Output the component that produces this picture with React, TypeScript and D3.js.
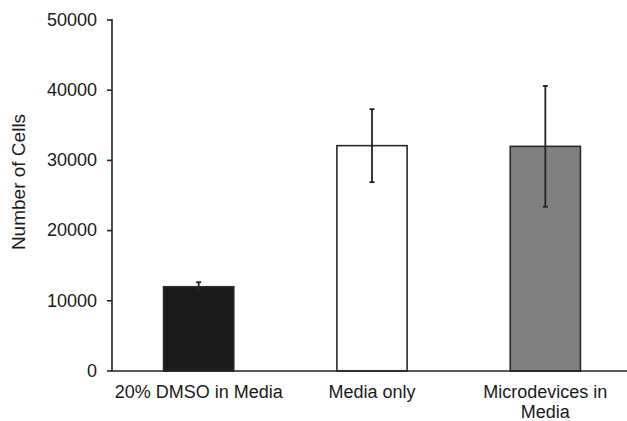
import React from "react";
import * as d3 from "d3";

const categories = ["20% DMSO in Media", "Media only", "Microdevices in Media"];
const labelLines = [["20% DMSO in Media"], ["Media only"], ["Microdevices in", "Media"]];
const means = [12000, 32100, 32000];
const errors = [650, 5200, 8600];
const fills = ["#1a1a1a", "#ffffff", "#808080"];
const yTicks = [0, 10000, 20000, 30000, 40000, 50000];

const W = 627;
const H = 421;
const left = 112;
const top = 20;
const bottom = 371;

const App = () => {
  const x = d3.scaleBand<string>()
    .domain(categories)
    .range([left, 632])
    .paddingInner(0.595)
    .paddingOuter(0.2975);

  const y = d3.scaleLinear()
    .domain([0, 50000])
    .range([bottom, top]);

  const font = "Arial, 'Liberation Sans', sans-serif";

  return (
    <svg width={W} height={H} style={{ position: "absolute", left: 0, top: 0, background: "#fff" }}
      fontFamily={font}>
      {/* bars */}
      {categories.map((c, i) => (
        <rect key={c}
          x={x(c)}
          y={y(means[i])}
          width={x.bandwidth()}
          height={y(0) - y(means[i])}
          fill={fills[i]}
          stroke="#2a2a2a"
          strokeWidth={1.6} />
      ))}

      {/* error bars */}
      {categories.map((c, i) => {
        const cx = (x(c) as number) + x.bandwidth() / 2;
        const y1 = y(means[i] + errors[i]);
        const y2 = y(means[i] - errors[i]);
        return (
          <g key={c} stroke="#222" strokeWidth={1.8}>
            <line x1={cx} x2={cx} y1={y1} y2={y2} />
            <line x1={cx - 2.5} x2={cx + 2.5} y1={y1} y2={y1} />
            <line x1={cx - 2.5} x2={cx + 2.5} y1={y2} y2={y2} />
          </g>
        );
      })}

      {/* axes */}
      <g stroke="#222" strokeWidth={1.6}>
        <line x1={left} x2={left} y1={top - 1} y2={bottom} />
        <line x1={left} x2={W} y1={bottom} y2={bottom} />
        {yTicks.map(t => (
          <line key={t} x1={left - 5} x2={left} y1={y(t)} y2={y(t)} />
        ))}
      </g>

      {/* y tick labels */}
      {yTicks.map(t => (
        <text key={t} x={left - 15} y={y(t)} dy="0.32em" textAnchor="end"
          fontSize={18} fill="#1a1a1a">{t}</text>
      ))}

      {/* x labels */}
      {categories.map((c, i) => {
        const cx = (x(c) as number) + x.bandwidth() / 2;
        return (
          <text key={c} x={cx} y={398} textAnchor="middle" fontSize={18} fill="#1a1a1a">
            {labelLines[i].map((l, j) => (
              <tspan key={j} x={cx} dy={j === 0 ? 0 : 19.5}>{l}</tspan>
            ))}
          </text>
        );
      })}

      {/* axis title */}
      <text transform={`translate(25, 182) rotate(-90)`} textAnchor="middle"
        fontSize={19} fill="#1a1a1a">Number of Cells</text>
    </svg>
  );
};

export default App;
